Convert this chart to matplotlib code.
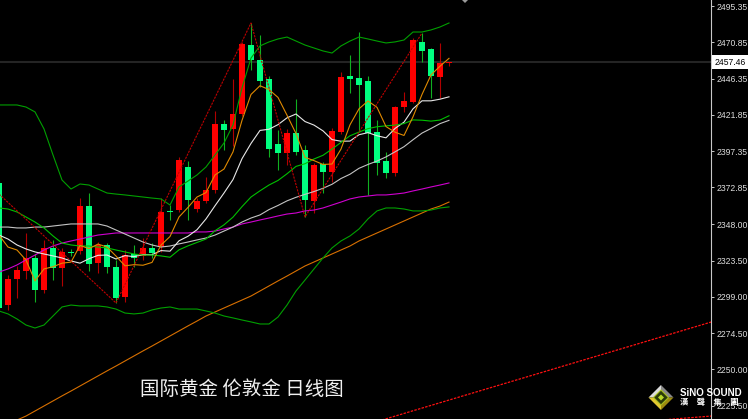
import matplotlib
matplotlib.use("Agg")
import matplotlib.pyplot as plt
from matplotlib.patches import Polygon

plt.rcParams['font.family'] = ['Liberation Sans', 'DejaVu Sans']

# Daily bars, London gold
opens = [2375.9, 2293.4, 2311.0, 2316.4, 2325.2, 2303.6, 2332.0, 2318.4, 2329.2, 2329.9,
         2360.3, 2321.8, 2334.0, 2319.1, 2298.8, 2327.9, 2326.5, 2332.0, 2332.6, 2356.9,
         2357.6, 2386.7, 2358.3, 2363.7, 2371.1, 2415.7, 2412.4, 2422.5, 2469.1, 2459.0,
         2446.2, 2402.2, 2396.1, 2409.7, 2398.2, 2363.7, 2388.7, 2383.3, 2410.3, 2448.2,
         2446.8, 2444.8, 2410.3, 2390.7, 2382.6, 2427.2, 2430.6, 2471.1, 2466.4, 2447.5, 2456.8]
highs = [2377.9, 2313.7, 2319.8, 2342.1, 2327.9, 2337.4, 2337.4, 2332.0, 2331.3, 2365.7,
         2369.1, 2336.0, 2335.3, 2323.8, 2330.6, 2334.0, 2338.7, 2335.3, 2365.7, 2361.0,
         2393.4, 2390.7, 2365.7, 2379.9, 2424.5, 2418.4, 2446.2, 2471.2, 2484.0, 2475.9,
         2448.2, 2411.7, 2412.4, 2432.6, 2401.6, 2389.4, 2390.1, 2413.0, 2450.9, 2462.4,
         2477.9, 2448.2, 2418.4, 2396.8, 2427.9, 2437.4, 2473.9, 2477.2, 2467.1, 2470.5, 2457.6]
lows = [2290.1, 2290.1, 2298.2, 2311.0, 2295.5, 2301.5, 2310.3, 2306.3, 2326.5, 2327.9,
        2316.4, 2315.1, 2315.1, 2294.8, 2295.5, 2319.1, 2323.8, 2325.2, 2329.2, 2350.9,
        2356.3, 2350.9, 2356.3, 2362.4, 2369.1, 2398.2, 2400.9, 2421.1, 2452.2, 2440.7,
        2393.4, 2384.7, 2388.0, 2394.8, 2352.9, 2355.6, 2369.1, 2376.5, 2409.0, 2436.7,
        2410.3, 2367.8, 2381.3, 2379.2, 2380.6, 2423.9, 2429.9, 2457.6, 2433.3, 2433.3, 2454.9]
closes = [2291.4, 2311.0, 2317.1, 2325.2, 2303.6, 2332.0, 2318.4, 2329.2, 2328.6, 2360.3,
          2321.1, 2334.0, 2319.1, 2298.2, 2327.2, 2325.2, 2332.0, 2328.6, 2356.3, 2356.3,
          2391.4, 2364.4, 2363.7, 2371.1, 2415.7, 2411.7, 2422.5, 2469.8, 2459.0, 2444.8,
          2398.9, 2396.1, 2409.7, 2396.8, 2364.4, 2388.0, 2383.3, 2411.0, 2447.5, 2446.2,
          2442.1, 2409.7, 2389.4, 2382.6, 2427.2, 2431.3, 2472.5, 2465.1, 2448.2, 2457.0, 2457.46]

# Bollinger bands (20)
bb_upper = [2428.6, 2428.6, 2428.6, 2427.2, 2423.9, 2412.4, 2394.8, 2377.9, 2371.8, 2375.2,
            2374.5, 2371.8, 2369.1, 2368.4, 2367.8, 2367.1, 2366.4, 2365.7, 2365.1, 2361.0,
            2373.2, 2377.2, 2381.3, 2386.7, 2394.8, 2402.9, 2415.1, 2440.1, 2460.3, 2468.5,
            2471.2, 2473.2, 2474.5, 2471.8, 2469.1, 2467.1, 2465.1, 2463.7, 2468.5, 2471.8,
            2474.5, 2473.2, 2471.8, 2470.5, 2471.2, 2472.5, 2477.9, 2477.9, 2479.3, 2481.3, 2484.0]
bb_mid = [2359.0, 2358.3, 2356.3, 2352.9, 2349.5, 2345.5, 2340.1, 2335.3, 2334.0, 2333.3,
          2333.3, 2332.6, 2332.0, 2330.6, 2329.3, 2327.9, 2327.2, 2327.2, 2326.6, 2325.7,
          2330.7, 2333.4, 2335.7, 2338.0, 2343.6, 2347.6, 2352.8, 2359.9, 2366.4, 2370.6,
          2374.5, 2377.6, 2382.1, 2387.1, 2388.9, 2392.1, 2394.6, 2398.8, 2403.3, 2407.8,
          2410.3, 2412.6, 2413.9, 2414.5, 2415.0, 2416.0, 2418.5, 2418.3, 2417.7, 2418.4, 2421.3]
bb_lower = [2289.4, 2287.4, 2284.0, 2279.9, 2277.9, 2279.9, 2286.0, 2292.1, 2293.4, 2292.8,
            2292.8, 2292.8, 2292.1, 2290.7, 2288.0, 2287.4, 2288.0, 2290.1, 2291.4, 2292.1,
            2290.7, 2290.7, 2290.7, 2289.4, 2288.0, 2286.0, 2284.7, 2283.3, 2282.0, 2280.6,
            2280.6, 2285.3, 2293.4, 2302.9, 2310.3, 2317.8, 2325.2, 2332.0, 2336.7, 2340.1,
            2344.8, 2351.6, 2357.0, 2359.0, 2359.0, 2358.3, 2357.0, 2357.0, 2357.6, 2359.0, 2359.7]

# Moving averages
ma5 = [2340.7, 2332.6, 2330.6, 2323.8, 2309.7, 2317.8, 2319.3, 2321.7, 2322.4, 2333.7,
       2331.5, 2334.6, 2332.6, 2326.5, 2319.9, 2320.7, 2320.3, 2322.2, 2333.9, 2339.7,
       2352.9, 2359.4, 2366.4, 2369.4, 2381.3, 2385.3, 2396.9, 2418.2, 2435.7, 2441.6,
       2439.0, 2433.7, 2421.7, 2409.3, 2393.2, 2391.0, 2388.4, 2388.7, 2398.8, 2415.2,
       2426.0, 2431.3, 2427.0, 2414.0, 2410.2, 2408.0, 2420.6, 2435.7, 2448.9, 2454.8, 2460.1]
ma10 = [2340.7, 2338.0, 2334.0, 2331.3, 2329.3, 2327.9, 2326.6, 2325.2, 2323.2, 2321.7,
        2324.7, 2327.0, 2327.2, 2324.5, 2326.8, 2326.1, 2327.5, 2327.4, 2330.2, 2329.8,
        2336.8, 2339.9, 2344.3, 2351.6, 2360.5, 2369.1, 2378.2, 2392.3, 2402.6, 2411.4,
        2412.2, 2415.3, 2419.9, 2422.5, 2417.4, 2415.0, 2411.1, 2405.2, 2404.1, 2404.2,
        2408.5, 2409.9, 2407.8, 2406.4, 2412.7, 2417.0, 2426.0, 2431.4, 2431.4, 2432.5, 2434.1]
ma30 = [2346.1, 2346.1, 2345.5, 2345.5, 2346.1, 2346.1, 2346.8, 2347.5, 2348.2, 2348.2,
        2348.2, 2348.2, 2346.8, 2344.1, 2341.4, 2338.7, 2336.0, 2334.0, 2332.6, 2333.3,
        2334.7, 2336.0, 2337.4, 2338.7, 2340.7, 2343.4, 2346.1, 2349.5, 2352.2, 2354.3,
        2357.9, 2360.7, 2363.8, 2366.2, 2368.2, 2370.1, 2372.3, 2375.0, 2378.9, 2381.8,
        2385.8, 2388.4, 2390.7, 2393.5, 2396.9, 2400.4, 2405.1, 2409.6, 2412.7, 2416.0, 2418.2]
ma60 = [2315.7, 2317.8, 2320.5, 2323.9, 2327.2, 2330.6, 2333.3, 2335.3, 2336.7, 2338.0,
        2339.4, 2340.7, 2341.4, 2342.1, 2342.1, 2342.1, 2342.1, 2342.1, 2342.1, 2342.1,
        2342.1, 2342.1, 2342.8, 2342.8, 2343.4, 2344.8, 2346.1, 2348.2, 2349.5, 2350.9,
        2352.2, 2353.6, 2354.9, 2355.6, 2357.0, 2357.6, 2359.0, 2361.0, 2363.0, 2365.1,
        2366.4, 2367.1, 2367.8, 2367.8, 2368.4, 2369.1, 2370.5, 2371.8, 2373.2, 2374.5, 2375.9]
ma200 = [2209.0, 2212.4, 2215.7, 2218.4, 2221.8, 2225.2, 2228.6, 2232.0, 2235.3, 2238.7,
         2242.1, 2245.5, 2248.9, 2252.2, 2255.6, 2259.0, 2262.4, 2265.7, 2269.1, 2272.5,
         2275.9, 2279.3, 2282.6, 2286.0, 2288.7, 2291.4, 2294.1, 2296.8, 2299.5, 2302.9,
         2306.3, 2309.7, 2313.0, 2316.4, 2319.8, 2322.5, 2325.2, 2327.9, 2330.6, 2333.3,
         2336.7, 2339.4, 2342.1, 2344.8, 2347.5, 2350.2, 2352.9, 2355.6, 2358.3, 2360.3, 2363.0]

# ZigZag swing points and trend lines (bar index, price)
zigzag_idx = [-5, 13, 28, 34, 47]
zigzag_price = [2396.7, 2294.8, 2484.0, 2352.9, 2477.2]
trend_a_idx = [30, 80]
trend_a_price = [2193.0, 2283.5]
trend_b_idx = [70, 80]
trend_b_price = [2214.0, 2218.8]

price_ticks = [2495.35, 2470.85, 2446.35, 2421.85, 2397.35, 2372.85,
               2348.00, 2323.50, 2299.00, 2274.50, 2250.00, 2225.50]
price_tick_labels = ["2495.35", "2470.85", "2446.35", "2421.85", "2397.35", "2372.85",
                     "2348.00", "2323.50", "2299.00", "2274.50", "2250.00", "2225.50"]
title_text = "国际黄金 伦敦金 日线图"
brand_en = "SiNO SOUND"
brand_zh = "漢　聲　集　團"

W, H = 748, 419
fig = plt.figure(figsize=(W / 100, H / 100), dpi=100, facecolor='black')
ax = fig.add_axes([0, 0, 711 / W, 1])
ax.set_facecolor('black')

n = len(closes)
idx = list(range(n))
up_body, up_wick = '#ff0000', '#b00000'
dn_body, dn_wick = '#00ff80', '#10b020'

# last-price line
ax.axhline(closes[-1], color='#242424', lw=1.5, zorder=1)

# candles
for i in idx:
    o, h, l, c = opens[i], highs[i], lows[i], closes[i]
    up = c >= o
    ax.vlines(i, l, h, colors=up_wick if up else dn_wick, lw=0.8, zorder=2)
    body = max(abs(c - o), 0.7)
    ax.bar(i, body, bottom=min(o, c), width=6 / 9, color=up_body if up else dn_body,
           linewidth=0, zorder=3)

lw = 0.8
ax.plot(idx, ma200, color='#d87000', lw=lw, zorder=4)
ax.plot(idx, ma60, color='#d000d0', lw=lw, zorder=4)
ax.plot(idx, ma30, color='#c4c4c4', lw=lw, zorder=4)
ax.plot(idx, ma10, color='#e8e8e8', lw=lw, zorder=4)
ax.plot(idx, bb_upper, color='#00a000', lw=lw, zorder=4)
ax.plot(idx, bb_lower, color='#00a000', lw=lw, zorder=4)
ax.plot(idx, bb_mid, color='#00c000', lw=lw, zorder=4)
ax.plot(idx, ma5, color='#e08a00', lw=lw, zorder=5)
ax.plot(zigzag_idx, zigzag_price, color='#c00000', lw=0.8, ls=(0, (2, 1)), zorder=5)
ax.plot(trend_a_idx, trend_a_price, color='#ff1010', lw=0.9, ls=(0, (2, 1)), zorder=5)
ax.plot(trend_b_idx, trend_b_price, color='#ff1010', lw=0.9, ls=(0, (2, 1)), zorder=5)

ax.set_xlim(1 / 9, 712 / 9)
ax.set_ylim(2216.4, 2499.53)
ax.set_xticks([])
ax.yaxis.tick_right()
ax.set_yticks(price_ticks)
ax.set_yticklabels(price_tick_labels)
ax.tick_params(axis='y', length=2.2, width=0.7, color='#c8c8c8', labelcolor='#dcdcdc',
               labelsize=6.2, pad=1.5)
for side in ('left', 'top', 'bottom'):
    ax.spines[side].set_visible(False)
ax.spines['right'].set_color('#c8c8c8')
ax.spines['right'].set_linewidth(0.8)

# current price tag
ax.annotate(f"{closes[-1]:.2f}", xy=(1, closes[-1]), xycoords=('axes fraction', 'data'),
            xytext=(4, 0), textcoords='offset pixels', ha='left', va='center',
            fontsize=6.2, color='black', annotation_clip=False, zorder=10,
            bbox=dict(boxstyle='square,pad=0.3', fc='white', ec='none'))

# caption
fig.text(140 / W, 1 - 389 / H, title_text, color='#f0f0f0', fontsize=14,
         family=['Noto Sans CJK SC', 'DejaVu Sans'], ha='left', va='center')

# brand logo on a pixel-space overlay
lax = fig.add_axes([0, 0, 1, 1], facecolor='none')
lax.set_xlim(0, W)
lax.set_ylim(H, 0)
lax.axis('off')
cx, cy, R, r = 661, 397.5, 12.5, 7.5
top, rgt, bot, lft = (cx, cy - R), (cx + R, cy), (cx, cy + R), (cx - R, cy)
itop, irgt, ibot, ilft = (cx, cy - r), (cx + r, cy), (cx, cy + r), (cx - r, cy)
for pts, col in [([top, lft, ilft, itop], '#dcdcdc'),
                 ([top, rgt, irgt, itop], '#8a8a8a'),
                 ([rgt, bot, ibot, irgt], '#9c8a10'),
                 ([lft, bot, ibot, ilft], '#e2c830')]:
    lax.add_patch(Polygon(pts, closed=True, fc=col, ec='none'))
lax.add_patch(Polygon([itop, irgt, ibot, ilft], closed=True, fc='#2a3a08', ec='#a8c020', lw=0.8))
lax.add_patch(Polygon([(cx, cy - 3), (cx + 3, cy), (cx, cy + 3), (cx - 3, cy)],
                      closed=True, fc='#b8d828', ec='none'))
lax.add_patch(Polygon([(462, 0), (468, 0), (465, 3)], closed=True, fc='#9a9a9a', ec='none'))
lax.text(680, 392.5, brand_en, color='white', fontsize=7, fontweight='bold',
         ha='left', va='center')
lax.text(680, 402.5, brand_zh, color='white', fontsize=6, fontweight='bold',
         family=['Noto Sans CJK TC', 'DejaVu Sans'], ha='left', va='center')

fig.savefig('out.png', dpi=100, facecolor='black')
